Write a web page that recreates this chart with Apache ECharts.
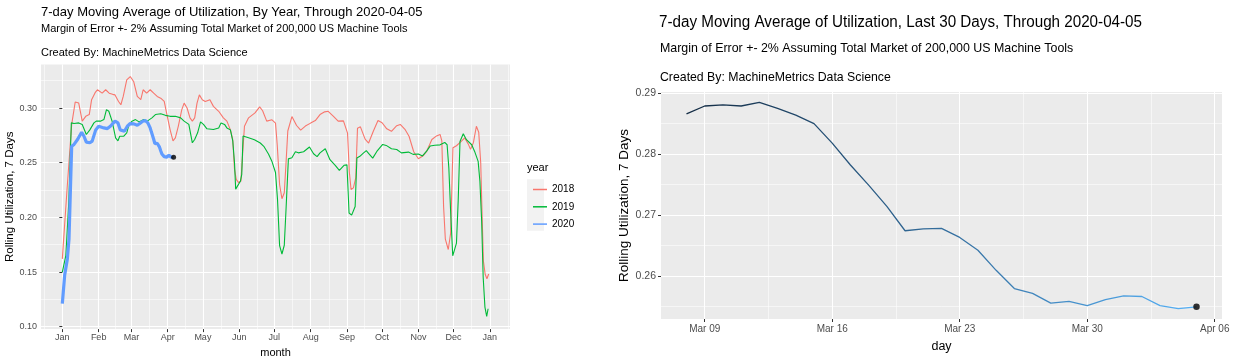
<!DOCTYPE html>
<html><head><meta charset="utf-8">
<script src="https://cdn.jsdelivr.net/npm/echarts@6/dist/echarts.min.js"></script>
<style>html,body{margin:0;padding:0;background:#fff}#c{width:1250px;height:363px}</style>
</head><body><div id="c"></div>
<script>
// ---------- left panel: by year ----------
const monthTickDays = [0,31,59,90,120,151,181,212,243,273,304,334,365];
const monthTickLabels = ['Jan','Feb','Mar','Apr','May','Jun','Jul','Aug','Sep','Oct','Nov','Dec','Jan'];
const monthMinorDays = [-15.5,15.5,45,74.5,105,135.5,166,196.5,227.5,258,288.5,319,349.5,380.5];
const yTicksLeft = [0.10,0.15,0.20,0.25,0.30];
const yMinorLeft = [0.125,0.175,0.225,0.275,0.325];
const years = ['2018','2019','2020'];

const days2018 = [0,4,8,11,14,17,20,23,25,28,30,31,34,37,40,43,45,48,50,52,55,58,61,64,67,69,72,75,78,81,84,87,89,92,94.5,96.5,99,102,104,106.5,109,111,113,115,117,119.5,122,126,129,133.5,137.5,140.5,143.5,145.5,147,148.5,150.5,152.5,154,155.5,159,164.5,168.5,171,174.5,179,182,183.5,185.5,187.5,189.5,191,192.5,196,200,203.5,207.5,212,216,220,224,227,231.5,235.5,240,243.5,245,246.5,248.5,250.5,252,254.5,258.5,261.5,265.5,269.5,273,277,281,285.5,288.5,292.5,296,300,304,308,311,315.5,319.5,322.5,324,325.5,327,329.5,331.5,333.5,336.5,341,343.5,346.5,348.5,351,353.5,355.5,357.2,358.3,359.5,361,362.5,364];
const util2018 = [0.162,0.225,0.285,0.3055,0.3045,0.288,0.2924,0.294,0.3076,0.314,0.3167,0.318,0.3136,0.3167,0.3136,0.3125,0.312,0.306,0.303,0.3106,0.3258,0.3288,0.324,0.3106,0.3076,0.3167,0.3136,0.3167,0.3136,0.3106,0.309,0.306,0.2955,0.2803,0.270,0.2727,0.2833,0.2985,0.3045,0.300,0.291,0.288,0.291,0.3045,0.312,0.3076,0.306,0.3076,0.3015,0.297,0.291,0.288,0.280,0.2712,0.244,0.2348,0.2318,0.2333,0.259,0.2833,0.291,0.2955,0.301,0.2975,0.288,0.2892,0.2862,0.266,0.230,0.217,0.2225,0.250,0.279,0.2922,0.284,0.2797,0.2835,0.2862,0.2885,0.294,0.2965,0.297,0.2924,0.288,0.2882,0.277,0.242,0.2255,0.227,0.236,0.2815,0.2828,0.2715,0.268,0.2788,0.2885,0.2865,0.281,0.2787,0.2838,0.285,0.2805,0.2742,0.260,0.2536,0.2563,0.2603,0.2712,0.2745,0.2758,0.270,0.210,0.180,0.1706,0.1855,0.2636,0.2655,0.270,0.2727,0.2672,0.2622,0.2685,0.2833,0.2778,0.250,0.205,0.160,0.148,0.1438,0.1482];

const days2019 = [0,3,5.5,7.7,10,14,17,20.5,23.5,27,29,32.5,35.5,37.7,39.7,42.5,45.5,47.5,49,52.5,55,57,59.5,62.5,65.5,69.5,72.5,76.5,79.5,84,88,92,96.5,101,104,108,111,113,115.5,118,120.5,123.5,129,133.5,135.5,138.5,140.5,143.5,145.5,147,148,149.5,152,153.2,154.3,156,159,164,169,172,176,179,182,183.7,185.5,187.5,189.5,191,193,196,199,201.5,206,211,214.5,217.5,220,224.5,228.5,233,236.5,240.5,243,244.8,247,250,251.5,254,257,259.5,262,265,268.5,273.5,276.5,281,285.5,289.5,295.5,299.5,304,307.5,311,314,318,322.5,326.5,328.5,330,331.5,333.3,334.8,336.5,338,339.5,342.3,345,349.5,352,355,356.5,358,359.3,360.8,362.3,363.5];
const util2019 = [0.150,0.165,0.2136,0.2864,0.2858,0.2864,0.285,0.2758,0.280,0.2864,0.288,0.288,0.2894,0.2985,0.297,0.288,0.2727,0.270,0.2742,0.2742,0.2773,0.285,0.288,0.2894,0.2873,0.2894,0.288,0.291,0.294,0.2948,0.2933,0.2924,0.2924,0.291,0.288,0.285,0.2682,0.2712,0.2773,0.2873,0.285,0.281,0.2803,0.2818,0.2864,0.285,0.2818,0.280,0.270,0.250,0.2258,0.2273,0.233,0.2394,0.2745,0.2748,0.2728,0.271,0.268,0.265,0.258,0.251,0.241,0.2167,0.1742,0.1665,0.1745,0.2076,0.2535,0.2545,0.260,0.259,0.260,0.2643,0.2582,0.2555,0.259,0.2627,0.2527,0.2476,0.243,0.2476,0.248,0.204,0.202,0.210,0.2542,0.2558,0.2588,0.261,0.2579,0.2542,0.2603,0.2667,0.2658,0.2627,0.262,0.259,0.2597,0.2576,0.258,0.2562,0.2606,0.2652,0.266,0.2663,0.2685,0.2664,0.245,0.2058,0.1648,0.1633,0.1765,0.216,0.2694,0.2765,0.271,0.2664,0.2603,0.2512,0.233,0.1967,0.1452,0.1179,0.1095,0.1164];

const days2020 = [0,2,4.3,5.7,7,8,10,13,16.5,18.5,20.5,23.5,25.5,28.5,31,35.5,38.5,41,45,47.5,49.5,53,55.5,58,61,64,67,68,69,70,71,72,73,74,75,76,77,78,79,80,81,82,83,84,85,86,87,88,89,90,91,92,93,94,95];
const util2020 = [0.1212,0.147,0.162,0.180,0.2288,0.265,0.2667,0.2712,0.2779,0.2742,0.2688,0.2682,0.2697,0.280,0.2833,0.2818,0.2812,0.2833,0.288,0.2864,0.280,0.2788,0.2833,0.2858,0.2855,0.2842,0.2866,0.2879,0.2881,0.2879,0.2885,0.2875,0.2864,0.285,0.2818,0.2782,0.2749,0.2714,0.2674,0.2677,0.2678,0.2663,0.2642,0.2609,0.2579,0.2571,0.2555,0.2558,0.2551,0.2561,0.2567,0.2566,0.2551,0.2546,0.2549];

// ---------- right panel: last 30 days ----------
const last30Dates = ['2020-03-08','2020-03-09','2020-03-10','2020-03-11','2020-03-12','2020-03-13','2020-03-14','2020-03-15','2020-03-16','2020-03-17','2020-03-18','2020-03-19','2020-03-20','2020-03-21','2020-03-22','2020-03-23','2020-03-24','2020-03-25','2020-03-26','2020-03-27','2020-03-28','2020-03-29','2020-03-30','2020-03-31','2020-04-01','2020-04-02','2020-04-03','2020-04-04','2020-04-05'];
const last30Util = [0.2866,0.2879,0.2881,0.2879,0.2885,0.2875,0.2864,0.2850,0.2818,0.2782,0.2749,0.2714,0.2674,0.2677,0.2678,0.2663,0.2642,0.2609,0.2579,0.2571,0.2555,0.2558,0.2551,0.2561,0.2567,0.2566,0.2551,0.2546,0.2549];
const dayTickDates = ['2020-03-09','2020-03-16','2020-03-23','2020-03-30','2020-04-06'];
const dayTickLabels = ['Mar 09','Mar 16','Mar 23','Mar 30','Apr 06'];
const yTicksRight = [0.26,0.27,0.28,0.29];
const yMinorRight = [0.255,0.265,0.275,0.285];

// helpers
const FONT = '"Liberation Sans", Arial, Helvetica, sans-serif';
const pairs = (xs, ys) => xs.map((x, i) => [x, ys[i]]);
const dayNum = s => (Date.UTC(+s.slice(0,4), +s.slice(5,7)-1, +s.slice(8,10)) - Date.UTC(2020,2,1)) / 86400000 + 1; // Mar 1 = 1
const last30X = last30Dates.map(dayNum);
const dayTickX = dayTickDates.map(dayNum);
const dayMinorX = dayTickX.slice(0, -1).map((v, i) => (v + dayTickX[i + 1]) / 2);

const majorLine = {show: true, lineStyle: {color: '#FFFFFF', width: 1.1}};
const minorLine = {show: true, lineStyle: {color: '#FFFFFF', width: 0.55}};
const tickStyle = {length: 3, lineStyle: {color: '#333333', width: 1}};

function minorAxis(grid, min, max, vals) {
  return {type: 'value', gridIndex: grid, min, max, show: true,
    axisLine: {show: false}, axisTick: {show: false, customValues: vals},
    axisLabel: {show: false}, splitLine: minorLine, z: 0};
}

const chart = echarts.init(document.getElementById('c'), null, {renderer: 'canvas'});
const L = days2020.length - 1;
const R = last30X.length - 1;

chart.setOption({
  animation: false,
  backgroundColor: '#FFFFFF',
  textStyle: {fontFamily: FONT},
  grid: [
    {left: 41, top: 64.5, width: 469, height: 266.2, show: true, backgroundColor: '#EBEBEB', borderWidth: 0},
    {left: 661, top: 92, width: 561, height: 227, show: true, backgroundColor: '#EBEBEB', borderWidth: 0}
  ],
  xAxis: [
    {type: 'value', gridIndex: 0, min: -18.2, max: 382.2,
      axisLine: {show: false},
      axisTick: Object.assign({customValues: monthTickDays}, tickStyle),
      axisLabel: {customValues: monthTickDays, color: '#4D4D4D', fontSize: 9, margin: 4, fontFamily: FONT,
        formatter: v => monthTickLabels[monthTickDays.indexOf(v)] || ''},
      splitLine: majorLine,
      name: 'month', nameLocation: 'middle', nameGap: 15,
      nameTextStyle: {color: '#000', fontSize: 11, fontFamily: FONT}},
    minorAxis(0, -18.2, 382.2, monthMinorDays),
    {type: 'value', gridIndex: 1, min: 6.6, max: 37.4,
      axisLine: {show: false},
      axisTick: Object.assign({customValues: dayTickX}, tickStyle),
      axisLabel: {customValues: dayTickX, color: '#4D4D4D', fontSize: 10, margin: 5, fontFamily: FONT,
        formatter: v => dayTickLabels[dayTickX.indexOf(v)] || ''},
      splitLine: majorLine,
      name: 'day', nameLocation: 'middle', nameGap: 21,
      nameTextStyle: {color: '#000', fontSize: 12.5, fontFamily: FONT}},
    minorAxis(1, 6.6, 37.4, dayMinorX)
  ],
  yAxis: [
    {type: 'value', gridIndex: 0, min: 0.0978, max: 0.3398,
      axisLine: {show: false},
      axisTick: Object.assign({customValues: yTicksLeft}, tickStyle),
      axisLabel: {customValues: yTicksLeft, color: '#4D4D4D', fontSize: 9, margin: 4, fontFamily: FONT,
        formatter: v => v.toFixed(2)},
      splitLine: majorLine,
      name: 'Rolling Utilization, 7 Days', nameLocation: 'middle', nameGap: 24,
      nameTextStyle: {color: '#000', fontSize: 11.5, fontFamily: FONT}},
    minorAxis(0, 0.0978, 0.3398, yMinorLeft),
    {type: 'value', gridIndex: 1, min: 0.2529, max: 0.2902,
      axisLine: {show: false},
      axisTick: Object.assign({customValues: yTicksRight}, tickStyle),
      axisLabel: {customValues: yTicksRight, color: '#4D4D4D', fontSize: 10.5, margin: 5, fontFamily: FONT,
        formatter: v => v.toFixed(2)},
      splitLine: majorLine,
      name: 'Rolling Utilization, 7 Days', nameLocation: 'middle', nameGap: 28,
      nameTextStyle: {color: '#000', fontSize: 13.5, fontFamily: FONT}},
    minorAxis(1, 0.2529, 0.2902, yMinorRight)
  ],
  visualMap: [{show: false, type: 'continuous', seriesIndex: 4, dimension: 0,
    min: last30X[0], max: last30X[R], inRange: {color: ['#132B43', '#56B1F7']}}],
  legend: {data: years, orient: 'vertical', left: 528, top: 178.5, itemWidth: 14, itemHeight: 1.5,
    itemGap: 5.3, icon: 'rect', selectedMode: false, z: 10,
    textStyle: {fontSize: 10, color: '#000', lineHeight: 12, fontFamily: FONT}},
  graphic: [
    {type: 'text', x: 41, y: 12.5, style: {text: '7-day Moving Average of Utilization, By Year, Through 2020-04-05', font: '13px ' + FONT, fill: '#000', verticalAlign: 'middle'}},
    {type: 'text', x: 41, y: 28.5, style: {text: 'Margin of Error +- 2% Assuming Total Market of 200,000 US Machine Tools', font: '11px ' + FONT, fill: '#000', verticalAlign: 'middle'}},
    {type: 'text', x: 41, y: 52.5, style: {text: 'Created By: MachineMetrics Data Science', font: '11px ' + FONT, fill: '#000', verticalAlign: 'middle'}},
    {type: 'text', x: 659, y: 23, scaleX: 0.95, style: {text: '7-day Moving Average of Utilization, Last 30 Days, Through 2020-04-05', font: '16px ' + FONT, fill: '#000', verticalAlign: 'middle'}},
    {type: 'text', x: 660, y: 48, scaleX: 0.954, style: {text: 'Margin of Error +- 2% Assuming Total Market of 200,000 US Machine Tools', font: '13px ' + FONT, fill: '#000', verticalAlign: 'middle'}},
    {type: 'text', x: 660, y: 77, scaleX: 0.945, style: {text: 'Created By: MachineMetrics Data Science', font: '13px ' + FONT, fill: '#000', verticalAlign: 'middle'}},
    {type: 'text', x: 527, y: 168, style: {text: 'year', font: '11px ' + FONT, fill: '#000', verticalAlign: 'middle'}},
    {type: 'rect', z: 1, shape: {x: 527, y: 179.3, width: 17, height: 51.5}, style: {fill: '#F2F2F2'}}
  ],
  series: [
    {name: '2018', type: 'line', xAxisIndex: 0, yAxisIndex: 0, data: pairs(days2018, util2018), showSymbol: false, symbol: 'none',
      color: '#F8766D', lineStyle: {color: '#F8766D', width: 1.1}, z: 3},
    {name: '2019', type: 'line', xAxisIndex: 0, yAxisIndex: 0, data: pairs(days2019, util2019), showSymbol: false, symbol: 'none',
      color: '#00BA38', lineStyle: {color: '#00BA38', width: 1.1}, z: 3},
    {name: '2020', type: 'line', xAxisIndex: 0, yAxisIndex: 0, data: pairs(days2020, util2020), showSymbol: false, symbol: 'none',
      color: '#619CFF', lineStyle: {color: '#619CFF', width: 3.2}, z: 4},
    {name: 'last2020', type: 'scatter', xAxisIndex: 0, yAxisIndex: 0, data: [[days2020[L], util2020[L]]],
      symbol: 'circle', symbolSize: 5, itemStyle: {color: '#000'}, z: 5},
    {name: 'last30', type: 'line', xAxisIndex: 2, yAxisIndex: 2, data: pairs(last30X, last30Util), showSymbol: false, symbol: 'none',
      lineStyle: {width: 1.3}, z: 3},
    {name: 'lastDay', type: 'scatter', xAxisIndex: 2, yAxisIndex: 2, data: [[last30X[R], last30Util[R]]],
      symbol: 'circle', symbolSize: 6.5, itemStyle: {color: '#000'}, z: 5}
  ]
});
</script>
</body></html>
